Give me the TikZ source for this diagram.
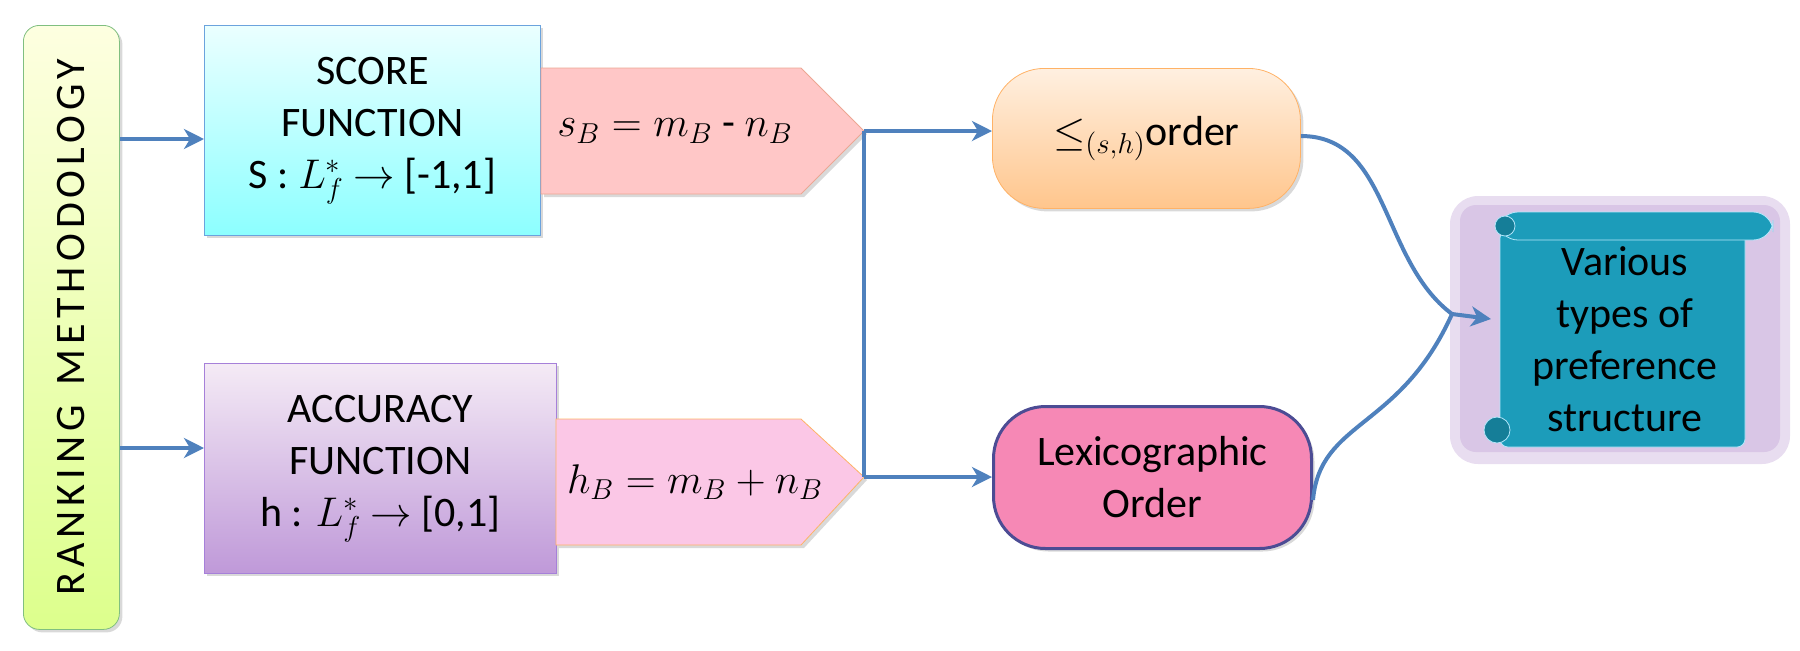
\documentclass[tikz,border=0pt]{standalone}
\usepackage{fontspec}
\setmainfont{Carlito}
\newfontfamily\spaced[LetterSpace=12]{Carlito}
\usetikzlibrary{arrows.meta,shadows}
\definecolor{arr}{HTML}{4F81BD}
\definecolor{teal1}{HTML}{1C9CBA}
\definecolor{teal2}{HTML}{157E98}
\definecolor{glow}{HTML}{D9C6E6}
\begin{document}
\begin{tikzpicture}[x=0.5pt,y=-0.5pt,
  conn/.style={draw=arr,line width=2pt,-{Stealth[length=10pt,width=10pt,inset=3pt]}},
  line/.style={draw=arr,line width=2pt},
  txt/.style={font=\fontsize{21}{26}\selectfont,align=center},
  box/.style={anchor=north west,inner sep=0pt,drop shadow={opacity=0.3,shadow xshift=1.5pt,shadow yshift=-1.5pt}}]
\useasboundingbox (0,0) rectangle (1800,650);
% ranking bar
\node[box,rounded corners=8pt,draw=green!50!black!50,top color=green!5!yellow!12,bottom color=green!30!yellow!45,
  minimum width=48pt,minimum height=302pt] (rank) at (23,25) {};
\node[font=\spaced\fontsize{21}{26}\selectfont,rotate=90] (rankt) at (rank.center) {RANKING\hspace{10pt}METHODOLOGY};
% score box
\node[box,draw=cyan!60!blue!60,top color=cyan!8,bottom color=cyan!45,minimum width=168pt,minimum height=105pt] (score) at (204,25) {};
\node[txt] (scoret) at (score.center) {SCORE\\FUNCTION\\S : $L_f^{*}$ $\rightarrow$ [-1,1]};
% accuracy box
\node[box,draw=blue!40!violet!50,top color=blue!5!violet!8,bottom color=blue!25!violet!40,minimum width=176pt,minimum height=105pt] (acc) at (204,363) {};
\node[txt] (acct) at (acc.center) {ACCURACY\\FUNCTION\\h : $L_f^{*}$ $\rightarrow$ [0,1]};
% pentagons
\draw[draw=red!40!brown!50,fill=red!22!white,drop shadow={opacity=0.3,shadow xshift=1.5pt,shadow yshift=-1.5pt}]
  (541,68) -- (801,68) -- (864,131) -- (801,194) -- (541,194) -- cycle;
\coordinate (p1) at (864,131);
\node[txt] (p1t) at (675,131) {$s_B = m_B$ - $n_B$};
\draw[draw=orange!60,fill=magenta!22!white,drop shadow={opacity=0.3,shadow xshift=1.5pt,shadow yshift=-1.5pt}]
  (556,419) -- (801,419) -- (864,477) -- (801,545) -- (556,545) -- cycle;
\coordinate (p2) at (864,477);
\node[txt] (p2t) at (695,482) {$h_B = m_B + n_B$};
% order boxes
\node[box,rounded corners=26pt,draw=orange!60,top color=orange!12,bottom color=orange!45,minimum width=154pt,minimum height=70pt] (ord) at (992,68) {};
\node[txt] (ordt) at (ord.center) {$\leq_{(s,h)}$order};
\node[box,rounded corners=26pt,draw=blue!40!black!70,line width=1.5pt,fill=magenta!45!pink!80,minimum width=159pt,minimum height=71pt] (lex) at (992,405) {};
\node[txt] (lext) at (lex.center) {Lexicographic\\Order};
% scroll
\fill[glow!60,rounded corners=14pt] (1450,196) rectangle (1790,464);
\fill[glow,rounded corners=8pt] (1460,205) rectangle (1780,452);
\draw[cyan!30,fill=teal1,rounded corners=4pt] (1500,230) rectangle (1745,447);
\draw[cyan!30,fill=teal1,rounded corners=10pt] (1498,212) rectangle (1773,240);
\draw[cyan!30,fill=teal2] (1505,226) circle (10);
\draw[cyan!30,fill=teal2] (1497,430) circle (13);
\node[txt,minimum width=122pt,minimum height=100pt,inner sep=0pt] (scr) at (1625,339) {Various\\types of\\preference\\structure};
\coordinate (sin) at (1491,319);
\coordinate (j) at (1452,314);
% connectors
\draw[conn] (rank.east |- 0,139) -- (score.west |- 0,139);
\draw[conn] (rank.east |- 0,448) -- (acc.west |- 0,448);
\draw[line] (p1) -- (p2);
\draw[conn] (p1) -- (ord.west |- p1);
\draw[conn] (p2) -- (lex.west |- p2);
\draw[line] (ord.east |- 0,136) .. controls (1390,136) and (1380,260) .. (j);
\draw[line] (lex.east |- 0,500) .. controls (1320,420) and (1400,430) .. (j);
\draw[conn] (j) -- (sin);
\end{tikzpicture}
\end{document}
